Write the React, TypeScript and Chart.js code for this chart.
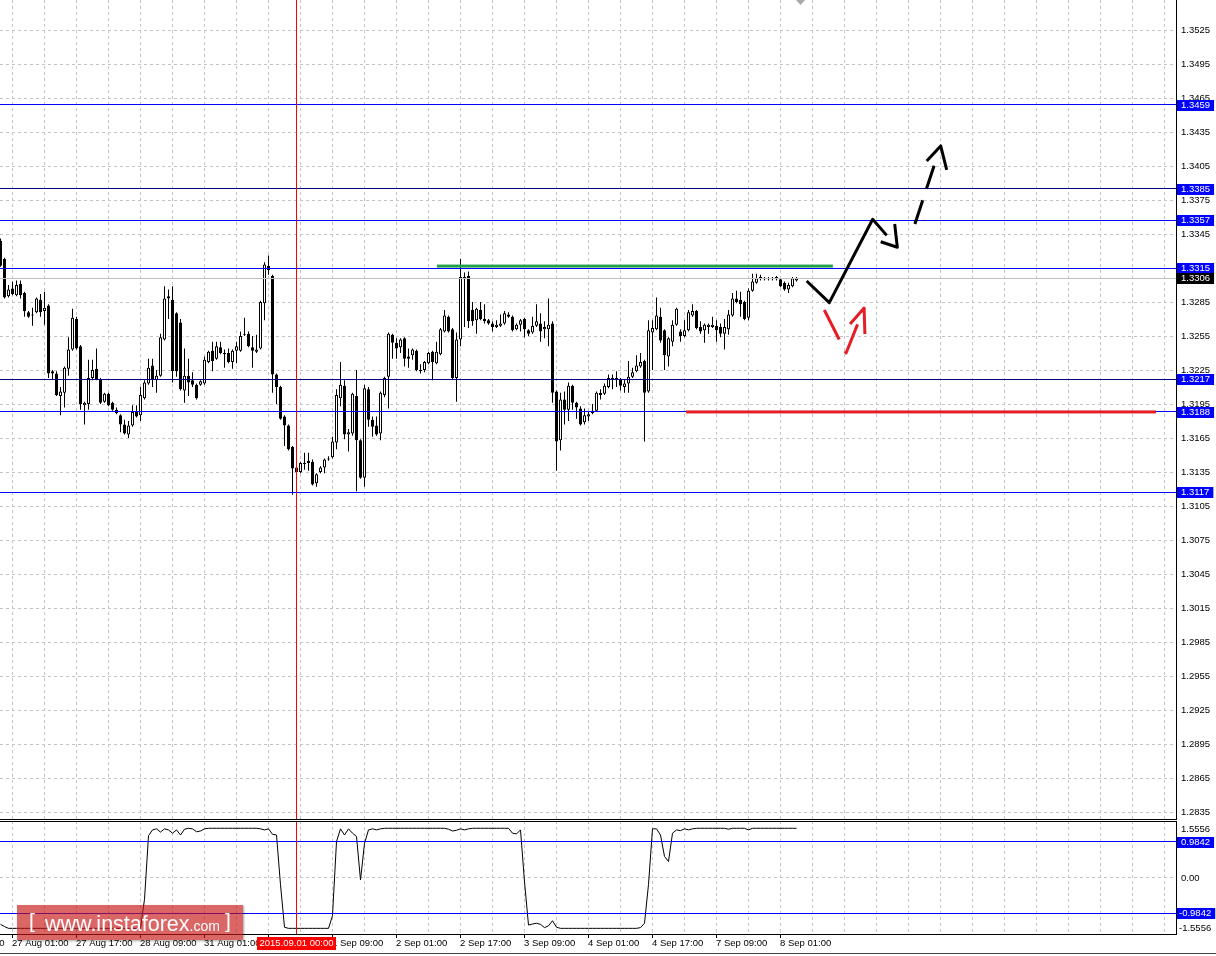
import React, { useEffect, useRef } from 'react';
import { Chart, registerables } from 'chart.js';

Chart.register(...registerables);

// ---------- DATA (H1 candles, index 0 = 26 Aug 22:00) ----------
const opens = [
  1.3339, 1.3323, 1.3290, 1.3297, 1.3291, 1.3301, 1.3293, 1.3276, 1.3274, 1.3276,
  1.3287, 1.3277, 1.3282, 1.3224, 1.3222, 1.3202, 1.3205, 1.3226, 1.3243, 1.3270,
  1.3246, 1.3194, 1.3195, 1.3218, 1.3226, 1.3217, 1.3197, 1.3204, 1.3196, 1.3190,
  1.3185, 1.3177, 1.3168, 1.3176, 1.3188, 1.3185, 1.3200, 1.3213, 1.3229, 1.3216,
  1.3220, 1.3252, 1.3290, 1.3287, 1.3275, 1.3267, 1.3207, 1.3220, 1.3216, 1.3212,
  1.3212, 1.3213, 1.3232, 1.3242, 1.3235, 1.3245, 1.3240, 1.3240, 1.3232, 1.3242,
  1.3242, 1.3256, 1.3257, 1.3245, 1.3241, 1.3244, 1.3284, 1.3317, 1.3308, 1.3221,
  1.3210, 1.3184, 1.3176, 1.3157, 1.3139, 1.3135, 1.3142, 1.3145, 1.3144, 1.3125,
  1.3135, 1.3139, 1.3146, 1.3148, 1.3161, 1.3200, 1.3211, 1.3168, 1.3169, 1.3202,
  1.3163, 1.3130, 1.3208, 1.3181, 1.3176, 1.3169, 1.3203, 1.3219, 1.3256, 1.3249,
  1.3245, 1.3253, 1.3237, 1.3238, 1.3242, 1.3225, 1.3225, 1.3231, 1.3241, 1.3231,
  1.3239, 1.3259, 1.3272, 1.3261, 1.3218, 1.3252, 1.3307, 1.3308, 1.3278, 1.3269,
  1.3278, 1.3270, 1.3269, 1.3266, 1.3263, 1.3264, 1.3266, 1.3274, 1.3272, 1.3261,
  1.3265, 1.3270, 1.3260, 1.3258, 1.3264, 1.3266, 1.3261, 1.3261, 1.3266, 1.3206,
  1.3163, 1.3199, 1.3190, 1.3211, 1.3196, 1.3191, 1.3179, 1.3184, 1.3187, 1.3189,
  1.3205, 1.3204, 1.3210, 1.3217, 1.3218, 1.3217, 1.3210, 1.3213, 1.3219, 1.3224,
  1.3228, 1.3233, 1.3206, 1.3258, 1.3261, 1.3272, 1.3260, 1.3237, 1.3250, 1.3265,
  1.3259, 1.3255, 1.3260, 1.3273, 1.3277, 1.3263, 1.3260, 1.3263, 1.3263, 1.3264,
  1.3263, 1.3257, 1.3261, 1.3273, 1.3288, 1.3287, 1.3285, 1.3271, 1.3295, 1.3302,
  1.3307, 1.3305, 1.3305, 1.3305, 1.3307, 1.3305, 1.3302, 1.3296, 1.3299, 1.3304,
];
const highs = [
  1.3341, 1.3324, 1.3300, 1.3303, 1.3304, 1.3304, 1.3294, 1.3277, 1.3280, 1.3289,
  1.3292, 1.3294, 1.3283, 1.3225, 1.3224, 1.3210, 1.3228, 1.3254, 1.3279, 1.3272,
  1.3247, 1.3197, 1.3234, 1.3234, 1.3244, 1.3218, 1.3205, 1.3205, 1.3197, 1.3192,
  1.3186, 1.3181, 1.3180, 1.3194, 1.3194, 1.3210, 1.3216, 1.3235, 1.3235, 1.3225,
  1.3257, 1.3299, 1.3296, 1.3299, 1.3276, 1.3270, 1.3244, 1.3235, 1.3223, 1.3213,
  1.3216, 1.3237, 1.3242, 1.3250, 1.3250, 1.3250, 1.3243, 1.3244, 1.3243, 1.3250,
  1.3259, 1.3271, 1.3259, 1.3255, 1.3256, 1.3286, 1.3320, 1.3326, 1.3309, 1.3222,
  1.3211, 1.3185, 1.3177, 1.3158, 1.3140, 1.3144, 1.3152, 1.3152, 1.3146, 1.3134,
  1.3140, 1.3147, 1.3149, 1.3166, 1.3208, 1.3232, 1.3216, 1.3173, 1.3205, 1.3225,
  1.3164, 1.3212, 1.3210, 1.3184, 1.3184, 1.3206, 1.3219, 1.3258, 1.3257, 1.3253,
  1.3253, 1.3254, 1.3244, 1.3244, 1.3243, 1.3230, 1.3233, 1.3241, 1.3242, 1.3250,
  1.3262, 1.3278, 1.3273, 1.3262, 1.3258, 1.3323, 1.3311, 1.3312, 1.3285, 1.3280,
  1.3285, 1.3283, 1.3270, 1.3268, 1.3269, 1.3274, 1.3277, 1.3276, 1.3273, 1.3266,
  1.3270, 1.3271, 1.3261, 1.3272, 1.3283, 1.3275, 1.3268, 1.3288, 1.3268, 1.3207,
  1.3205, 1.3206, 1.3214, 1.3212, 1.3197, 1.3193, 1.3191, 1.3188, 1.3195, 1.3206,
  1.3208, 1.3213, 1.3221, 1.3221, 1.3224, 1.3218, 1.3217, 1.3233, 1.3227, 1.3238,
  1.3240, 1.3234, 1.3269, 1.3269, 1.3289, 1.3280, 1.3261, 1.3254, 1.3269, 1.3280,
  1.3261, 1.3269, 1.3278, 1.3283, 1.3278, 1.3268, 1.3266, 1.3266, 1.3272, 1.3269,
  1.3266, 1.3270, 1.3278, 1.3293, 1.3295, 1.3294, 1.3286, 1.3297, 1.3310, 1.3310,
  1.3309, 1.3307, 1.3307, 1.3307, 1.3308, 1.3306, 1.3303, 1.3302, 1.3307, 1.3307,
];
const lows = [
  1.3316, 1.3288, 1.3289, 1.3291, 1.3290, 1.3288, 1.3272, 1.3271, 1.3264, 1.3275,
  1.3272, 1.3265, 1.3218, 1.3217, 1.3202, 1.3185, 1.3192, 1.3220, 1.3242, 1.3243,
  1.3190, 1.3177, 1.3190, 1.3216, 1.3216, 1.3195, 1.3196, 1.3193, 1.3189, 1.3186,
  1.3170, 1.3168, 1.3165, 1.3175, 1.3183, 1.3180, 1.3199, 1.3212, 1.3210, 1.3205,
  1.3219, 1.3251, 1.3270, 1.3214, 1.3219, 1.3207, 1.3196, 1.3202, 1.3210, 1.3199,
  1.3211, 1.3212, 1.3231, 1.3224, 1.3234, 1.3239, 1.3227, 1.3231, 1.3226, 1.3231,
  1.3241, 1.3255, 1.3245, 1.3227, 1.3240, 1.3243, 1.3269, 1.3309, 1.3205, 1.3195,
  1.3181, 1.3158, 1.3154, 1.3115, 1.3134, 1.3134, 1.3137, 1.3136, 1.3123, 1.3122,
  1.3134, 1.3134, 1.3145, 1.3147, 1.3155, 1.3193, 1.3164, 1.3153, 1.3167, 1.3118,
  1.3129, 1.3122, 1.3175, 1.3166, 1.3167, 1.3163, 1.3201, 1.3191, 1.3235, 1.3235,
  1.3240, 1.3228, 1.3227, 1.3234, 1.3224, 1.3222, 1.3223, 1.3230, 1.3216, 1.3230,
  1.3238, 1.3258, 1.3258, 1.3217, 1.3197, 1.3246, 1.3263, 1.3262, 1.3264, 1.3257,
  1.3269, 1.3266, 1.3265, 1.3259, 1.3262, 1.3263, 1.3265, 1.3271, 1.3259, 1.3260,
  1.3259, 1.3254, 1.3255, 1.3257, 1.3263, 1.3250, 1.3253, 1.3246, 1.3196, 1.3136,
  1.3154, 1.3177, 1.3180, 1.3190, 1.3182, 1.3176, 1.3177, 1.3180, 1.3186, 1.3188,
  1.3199, 1.3203, 1.3209, 1.3208, 1.3210, 1.3207, 1.3205, 1.3205, 1.3218, 1.3223,
  1.3227, 1.3162, 1.3205, 1.3225, 1.3260, 1.3249, 1.3225, 1.3228, 1.3246, 1.3264,
  1.3250, 1.3254, 1.3259, 1.3272, 1.3261, 1.3257, 1.3249, 1.3257, 1.3262, 1.3250,
  1.3254, 1.3243, 1.3256, 1.3272, 1.3284, 1.3272, 1.3269, 1.3269, 1.3294, 1.3301,
  1.3304, 1.3304, 1.3304, 1.3304, 1.3304, 1.3298, 1.3295, 1.3293, 1.3298, 1.3303,
];
const closes = [
  1.3317, 1.3289, 1.3296, 1.3292, 1.3300, 1.3291, 1.3277, 1.3272, 1.3273, 1.3288,
  1.3276, 1.3280, 1.3222, 1.3222, 1.3203, 1.3206, 1.3227, 1.3243, 1.3271, 1.3244,
  1.3195, 1.3196, 1.3218, 1.3225, 1.3217, 1.3196, 1.3204, 1.3194, 1.3190, 1.3187,
  1.3177, 1.3169, 1.3176, 1.3188, 1.3184, 1.3203, 1.3214, 1.3227, 1.3217, 1.3220,
  1.3254, 1.3288, 1.3288, 1.3224, 1.3224, 1.3208, 1.3220, 1.3214, 1.3212, 1.3200,
  1.3215, 1.3234, 1.3241, 1.3233, 1.3246, 1.3240, 1.3239, 1.3232, 1.3242, 1.3246,
  1.3255, 1.3257, 1.3246, 1.3242, 1.3243, 1.3285, 1.3318, 1.3313, 1.3221, 1.3210,
  1.3182, 1.3176, 1.3155, 1.3138, 1.3135, 1.3143, 1.3143, 1.3143, 1.3124, 1.3133,
  1.3139, 1.3146, 1.3147, 1.3162, 1.3203, 1.3212, 1.3168, 1.3170, 1.3204, 1.3163,
  1.3130, 1.3209, 1.3181, 1.3175, 1.3168, 1.3205, 1.3218, 1.3257, 1.3249, 1.3244,
  1.3252, 1.3235, 1.3235, 1.3243, 1.3225, 1.3224, 1.3232, 1.3240, 1.3232, 1.3241,
  1.3261, 1.3273, 1.3259, 1.3218, 1.3252, 1.3307, 1.3305, 1.3268, 1.3268, 1.3279,
  1.3270, 1.3268, 1.3266, 1.3263, 1.3265, 1.3266, 1.3275, 1.3272, 1.3260, 1.3265,
  1.3269, 1.3261, 1.3257, 1.3264, 1.3268, 1.3259, 1.3263, 1.3265, 1.3205, 1.3162,
  1.3199, 1.3190, 1.3211, 1.3196, 1.3192, 1.3177, 1.3185, 1.3186, 1.3189, 1.3205,
  1.3203, 1.3211, 1.3218, 1.3218, 1.3216, 1.3211, 1.3213, 1.3219, 1.3223, 1.3229,
  1.3232, 1.3205, 1.3260, 1.3262, 1.3273, 1.3251, 1.3238, 1.3253, 1.3265, 1.3279,
  1.3255, 1.3260, 1.3276, 1.3277, 1.3262, 1.3259, 1.3265, 1.3265, 1.3265, 1.3260,
  1.3257, 1.3263, 1.3274, 1.3288, 1.3285, 1.3283, 1.3270, 1.3295, 1.3303, 1.3306,
  1.3305, 1.3306, 1.3306, 1.3306, 1.3305, 1.3299, 1.3296, 1.3300, 1.3306, 1.3306,
];

// lower indicator panel
const indicatorValues = [
  -1.29, -1.35, -1.40, -1.40, -1.40, -1.40, -1.40, -1.40, -1.40, -1.40,
  -1.40, -1.40, -1.40, -1.40, -1.40, -1.40, -1.40, -1.40, -1.40, -1.40,
  -1.40, -1.40, -1.40, -1.40, -1.40, -1.40, -1.40, -1.40, -1.40, -1.40,
  -1.40, -1.40, -1.40, -1.40, -1.40, -1.40, -0.60, 1.15, 1.31, 1.34,
  1.25, 1.34, 1.31, 1.22, 1.31, 1.17, 1.33, 1.355, 1.34, 1.26,
  1.28, 1.34, 1.355, 1.355, 1.355, 1.355, 1.355, 1.355, 1.355, 1.355,
  1.355, 1.355, 1.355, 1.355, 1.355, 1.34, 1.31, 1.34, 1.19, 1.17,
  -0.20, -1.37, -1.40, -1.40, -1.40, -1.40, -1.40, -1.40, -1.40, -1.40,
  -1.40, -1.40, -1.40, -1.05, 0.99, 1.34, 1.17, 1.34, 1.22, 1.13,
  -0.07, 0.94, 1.31, 1.34, 1.31, 1.34, 1.355, 1.355, 1.355, 1.355,
  1.355, 1.355, 1.355, 1.355, 1.355, 1.355, 1.355, 1.355, 1.355, 1.355,
  1.355, 1.355, 1.33, 1.28, 1.30, 1.34, 1.31, 1.34, 1.355, 1.355,
  1.355, 1.355, 1.355, 1.355, 1.355, 1.355, 1.355, 1.355, 1.22, 1.20,
  1.31, -0.12, -1.31, -1.28, -1.26, -1.29, -1.38, -1.33, -1.19, -1.37,
  -1.40, -1.40, -1.40, -1.40, -1.40, -1.40, -1.40, -1.40, -1.40, -1.40,
  -1.40, -1.40, -1.40, -1.40, -1.40, -1.40, -1.40, -1.40, -1.40, -1.40,
  -1.38, -1.26, -0.19, 1.34, 1.34, 1.17, 0.58, 0.44, 1.22, 1.31,
  1.29, 1.34, 1.31, 1.34, 1.355, 1.355, 1.355, 1.355, 1.355, 1.355,
  1.355, 1.355, 1.33, 1.355, 1.355, 1.355, 1.355, 1.31, 1.355, 1.355,
  1.355, 1.355, 1.355, 1.355, 1.355, 1.355, 1.355, 1.355, 1.355, 1.355,
];

const priceTickLabels = [
  '1.3525', '1.3495', '1.3465', '1.3435', '1.3405', '1.3375', '1.3345', '1.3315',
  '1.3285', '1.3255', '1.3225', '1.3195', '1.3165', '1.3135', '1.3105', '1.3075',
  '1.3045', '1.3015', '1.2985', '1.2955', '1.2925', '1.2895', '1.2865', '1.2835',
];
const levelLabels = ['1.3459', '1.3385', '1.3357', '1.3315', '1.3217', '1.3188', '1.3117'];
const levelLineColors = ['#0000ff', '#000080', '#0000ff', '#0000ff', '#000080', '#0000ff', '#0000ff'];
const currentPriceLabel = '1.3306';

const subLevelLabels = ['0.9842', '-0.9842'];
const subTickLabels = ['1.5556', '0.00', '-1.5556'];

const timeLabels = [
  '26 Aug 09:00', '27 Aug 01:00', '27 Aug 17:00', '28 Aug 09:00', '31 Aug 01:00', '31 Aug 17:00',
  '1 Sep 09:00', '2 Sep 01:00', '2 Sep 17:00', '3 Sep 09:00', '4 Sep 01:00', '4 Sep 17:00',
  '7 Sep 09:00', '8 Sep 01:00',
];
const timeLabelIndex = [-13, 3, 19, 35, 51, 67, 83, 99, 115, 131, 147, 163, 179, 195];
const markerIndex = 74;
const markerLabel = '2015.09.01 00:00';
const shiftIndex = 200;

// drawn objects (index, price)
const segStartIdx = [109.1, 171.4];
const segEndIdx = [208.1, 288.9];
const segPrice = [1.33167, 1.3188];
const segColors = ['#22a04b', '#e41e26'];

const blackPathIdx = [201.55, 207.2, 218.05, 221.55];
const blackPathPrice = [1.33035, 1.32844, 1.3358, 1.33438];
const blackHeadIdx = [220.05, 224.2, 223.55];
const blackHeadPrice = [1.33382, 1.33333, 1.33538];
const dashPathIdx = [228.6, 233.4];
const dashPathPrice = [1.33539, 1.34053];
const dashHeadIdx = [231.55, 235.05, 236.55];
const dashHeadPrice = [1.34095, 1.34227, 1.34015];
const redPathIdx = [205.95, 211.4, 215.9];
const redPathPrice = [1.32779, 1.324, 1.32797];
const redHeadIdx = [212.4, 215.9, 216.1];
const redHeadPrice = [1.32656, 1.32797, 1.32567];

// ---------- layout constants ----------
const X_MIN = -0.125;
const X_MAX = 293.875;
const Y_MIN = 1.2828824;
const Y_MAX = 1.3551471;
const SUB_MIN = -1.5556;
const SUB_MAX = 1.5556;
const GRID_COLOR = '#c4c4c4';
const FONT = '9.5px "Liberation Sans", Arial, sans-serif';

const gridIdx: number[] = [];
for (let v = 3; v < X_MAX; v += 8) gridIdx.push(v);

function xScaleOpts(height: number) {
  return {
    type: 'linear',
    min: X_MIN,
    max: X_MAX,
    offset: false,
    grid: { color: GRID_COLOR, lineWidth: 1, drawTicks: false, offset: false },
    border: { display: false, dash: [3, 3] },
    ticks: { display: false },
    afterBuildTicks: (s: any) => {
      s.ticks = gridIdx.map((v) => ({ value: v }));
    },
    afterFit: (s: any) => {
      s.height = height;
    },
  };
}

function strokePath(ctx: any, xs: any, ys: any, idx: number[], vals: number[], color: string, width: number, dash: number[]) {
  ctx.save();
  ctx.strokeStyle = color;
  ctx.lineWidth = width;
  ctx.setLineDash(dash);
  ctx.lineJoin = 'round';
  ctx.lineCap = 'butt';
  ctx.beginPath();
  idx.forEach((v, k) => {
    const px = xs.getPixelForValue(v);
    const py = ys.getPixelForValue(vals[k]);
    if (k === 0) ctx.moveTo(px, py);
    else ctx.lineTo(px, py);
  });
  ctx.stroke();
  ctx.restore();
}

function boxLabel(ctx: any, text: string, x: number, py: number, bg: string, textX: number) {
  const w = ctx.measureText(text).width;
  ctx.fillStyle = bg;
  ctx.fillRect(x, Math.round(py) - 5, textX - x + w + 4, 11);
  ctx.fillStyle = '#ffffff';
  ctx.fillText(text, textX, Math.round(py) + 0.5);
}

const mainOverlay = {
  id: 'mainOverlay',
  afterDraw(chart: any) {
    const { ctx, chartArea: a } = chart;
    const xs = chart.scales.x;
    const ys = chart.scales.y;
    ctx.save();
    ctx.beginPath();
    ctx.rect(a.left, a.top, a.right - a.left, a.bottom - a.top);
    ctx.clip();

    // current price line
    const cpy = Math.round(ys.getPixelForValue(parseFloat(currentPriceLabel)) - 0.5);
    ctx.fillStyle = '#c0c0c0';
    ctx.fillRect(a.left, cpy, a.right - a.left, 1);

    // horizontal levels
    levelLabels.forEach((t, k) => {
      const py = Math.round(ys.getPixelForValue(parseFloat(t)) - 0.5);
      ctx.fillStyle = levelLineColors[k];
      ctx.fillRect(a.left, py, a.right - a.left, 1);
    });

    // thick segments
    segStartIdx.forEach((s, k) => {
      const x0 = xs.getPixelForValue(s);
      const x1 = xs.getPixelForValue(segEndIdx[k]);
      const py = ys.getPixelForValue(segPrice[k]);
      ctx.fillStyle = segColors[k];
      ctx.fillRect(x0, py - 1.5, x1 - x0, 3);
    });

    // red vertical marker
    const mx = Math.round(xs.getPixelForValue(markerIndex) - 0.5);
    ctx.fillStyle = '#ff0000';
    ctx.fillRect(mx, a.top, 1, a.bottom - a.top);

    // arrows
    strokePath(ctx, xs, ys, blackPathIdx, blackPathPrice, '#000000', 3, []);
    strokePath(ctx, xs, ys, blackHeadIdx, blackHeadPrice, '#000000', 3, []);
    strokePath(ctx, xs, ys, dashPathIdx, dashPathPrice, '#000000', 3, [25, 12]);
    strokePath(ctx, xs, ys, dashHeadIdx, dashHeadPrice, '#000000', 3, []);
    strokePath(ctx, xs, ys, redPathIdx, redPathPrice, '#e41e26', 3, [33, 13]);
    strokePath(ctx, xs, ys, redHeadIdx, redHeadPrice, '#e41e26', 3, []);

    ctx.restore();

    // shift marker
    const sx = xs.getPixelForValue(shiftIndex);
    ctx.fillStyle = '#a8a8a8';
    ctx.beginPath();
    ctx.moveTo(sx - 4.5, 0);
    ctx.lineTo(sx + 4.5, 0);
    ctx.lineTo(sx, 5);
    ctx.closePath();
    ctx.fill();

    // frame
    ctx.fillStyle = '#000000';
    ctx.fillRect(a.right, 0, 1, a.bottom + 1);
    ctx.fillRect(0, a.bottom, a.right + 1, 1);

    // axis labels
    ctx.font = FONT;
    ctx.textBaseline = 'middle';
    ctx.textAlign = 'left';
    ctx.fillStyle = '#000000';
    priceTickLabels.forEach((t) => {
      const py = ys.getPixelForValue(parseFloat(t));
      ctx.fillText(t, a.right + 5, Math.round(py) + 0.5);
    });
    levelLabels.forEach((t) => {
      boxLabel(ctx, t, a.right + 1, ys.getPixelForValue(parseFloat(t)), '#0000ff', a.right + 5);
    });
    boxLabel(ctx, currentPriceLabel, a.right + 1, ys.getPixelForValue(parseFloat(currentPriceLabel)), '#000000', a.right + 5);
  },
};

const subOverlay = {
  id: 'subOverlay',
  afterDraw(chart: any) {
    const { ctx, chartArea: a } = chart;
    const xs = chart.scales.x;
    const ys = chart.scales.y;

    ctx.save();
    ctx.beginPath();
    ctx.rect(a.left, a.top, a.right - a.left, a.bottom - a.top);
    ctx.clip();
    subLevelLabels.forEach((t) => {
      const py = Math.round(ys.getPixelForValue(parseFloat(t)) - 0.5);
      ctx.fillStyle = '#0000ff';
      ctx.fillRect(a.left, py, a.right - a.left, 1);
    });
    const mx = Math.round(xs.getPixelForValue(markerIndex) - 0.5);
    ctx.fillStyle = '#ff0000';
    ctx.fillRect(mx, a.top, 1, a.bottom - a.top);
    ctx.restore();

    // frame
    ctx.fillStyle = '#000000';
    ctx.fillRect(0, a.top, a.right + 1, 1);
    ctx.fillRect(0, a.bottom, a.right + 1, 1);
    ctx.fillRect(a.right, a.top, 1, a.bottom - a.top + 1);
    ctx.fillStyle = '#404040';
    ctx.fillRect(0, a.bottom + 19, chart.width, 1);

    ctx.font = FONT;
    ctx.textBaseline = 'middle';
    ctx.textAlign = 'left';
    ctx.fillStyle = '#000000';
    subTickLabels.forEach((t) => {
      let py = ys.getPixelForValue(parseFloat(t));
      py = Math.min(Math.max(py, a.top + 8), a.bottom - 6);
      ctx.fillText(t, a.right + (t.startsWith('-') ? 3 : 5), Math.round(py) + 0.5);
    });
    subLevelLabels.forEach((t) => {
      boxLabel(ctx, t, a.right + 1, ys.getPixelForValue(parseFloat(t)), '#0000ff', a.right + (t.startsWith('-') ? 3 : 5));
    });

    // time axis
    const ly = a.bottom + 9.5;
    timeLabels.forEach((t, k) => {
      const px = xs.getPixelForValue(timeLabelIndex[k]);
      ctx.fillStyle = '#000000';
      ctx.fillRect(Math.round(px - 0.5), a.bottom, 1, 4);
      ctx.fillText(t, px - 0.5, ly);
    });
    const mpx = xs.getPixelForValue(markerIndex);
    const mw = ctx.measureText(markerLabel).width + 5;
    ctx.fillStyle = '#ff0000';
    ctx.fillRect(Math.round(mpx - mw / 2), a.bottom + 3, Math.round(mw), 13);
    ctx.fillStyle = '#ffffff';
    ctx.textAlign = 'center';
    ctx.fillText(markerLabel, mpx, ly);
  },
};

const candleIdx = opens.map((_, i) => i);

export default function App() {
  const mainRef = useRef<HTMLCanvasElement>(null);
  const subRef = useRef<HTMLCanvasElement>(null);

  useEffect(() => {
    const wicks = candleIdx.map((i) => ({ x: i, y: [lows[i], highs[i]] }));
    const bodies = candleIdx.map((i) => ({ x: i, y: [opens[i], closes[i]] }));
    const bodyColors = candleIdx.map((i) => (closes[i] >= opens[i] ? '#ffffff' : '#000000'));

    const common = {
      animation: false,
      responsive: false,
      maintainAspectRatio: false,
      events: [],
      layout: { padding: 0, autoPadding: false },
      plugins: { legend: { display: false }, tooltip: { enabled: false } },
    };

    const main = new Chart(mainRef.current as any, {
      type: 'bar',
      data: {
        datasets: [
          {
            data: wicks,
            backgroundColor: '#000000',
            borderWidth: 0,
            barThickness: 1,
            grouped: false,
            order: 2,
            inflateAmount: 0,
            minBarLength: 1,
          },
          {
            data: bodies,
            backgroundColor: bodyColors,
            borderColor: '#000000',
            borderWidth: 1,
            borderSkipped: false,
            barThickness: 3,
            grouped: false,
            order: 1,
            inflateAmount: 0,
            minBarLength: 1,
          },
        ],
      },
      options: {
        ...common,
        scales: {
          x: xScaleOpts(2),
          y: {
            type: 'linear',
            position: 'right',
            min: Y_MIN,
            max: Y_MAX,
            beginAtZero: false,
            grid: { color: GRID_COLOR, lineWidth: 1, drawTicks: false },
            border: { display: false, dash: [3, 3] },
            ticks: { display: false },
            afterBuildTicks: (s: any) => {
              s.ticks = priceTickLabels.map((t) => ({ value: parseFloat(t) }));
            },
            afterFit: (s: any) => {
              s.width = 40;
            },
          },
        },
      } as any,
      plugins: [mainOverlay],
    } as any);

    const sub = new Chart(subRef.current as any, {
      type: 'line',
      data: {
        datasets: [
          {
            data: candleIdx.map((i) => ({ x: i, y: indicatorValues[i] })),
            borderColor: '#000000',
            borderWidth: 1,
            pointRadius: 0,
            tension: 0,
            fill: false,
          },
        ],
      },
      options: {
        ...common,
        scales: {
          x: xScaleOpts(22),
          y: {
            type: 'linear',
            position: 'right',
            min: SUB_MIN,
            max: SUB_MAX,
            grid: { color: GRID_COLOR, lineWidth: 1, drawTicks: false },
            border: { display: false, dash: [3, 3] },
            ticks: { display: false },
            afterBuildTicks: (s: any) => {
              s.ticks = [{ value: 0 }];
            },
            afterFit: (s: any) => {
              s.width = 40;
            },
          },
        },
      } as any,
      plugins: [subOverlay],
    } as any);

    return () => {
      main.destroy();
      sub.destroy();
    };
  }, []);

  return (
    <div
      style={{
        position: 'fixed',
        left: 0,
        top: 0,
        width: 1216,
        height: 956,
        background: '#ffffff',
        overflow: 'hidden',
      }}
    >
      <canvas
        ref={mainRef}
        width={1216}
        height={821}
        style={{ position: 'absolute', left: 0, top: 0, width: 1216, height: 821, display: 'block' }}
      />
      <canvas
        ref={subRef}
        width={1216}
        height={135}
        style={{ position: 'absolute', left: 0, top: 821, width: 1216, height: 135, display: 'block' }}
      />
      <div
        style={{
          position: 'absolute',
          left: 17,
          top: 905,
          width: 226,
          height: 35,
          background: 'rgba(200,20,20,0.65)',
          boxShadow: '1px 1px 2px rgba(0,0,0,0.35)',
          color: '#ffffff',
          fontFamily: '"Liberation Sans", Arial, sans-serif',
          whiteSpace: 'nowrap',
        }}
      >
        <span style={{ position: 'absolute', left: 12, top: 5, fontSize: 21, lineHeight: '21px' }}>[</span>
        <span style={{ position: 'absolute', left: 28, top: 9, fontSize: 21.5, lineHeight: '21.5px' }}>
          www.instaforex<span style={{ fontSize: 14 }}>.com</span>
        </span>
        <span style={{ position: 'absolute', left: 208, top: 5, fontSize: 21, lineHeight: '21px' }}>]</span>
      </div>
    </div>
  );
}
